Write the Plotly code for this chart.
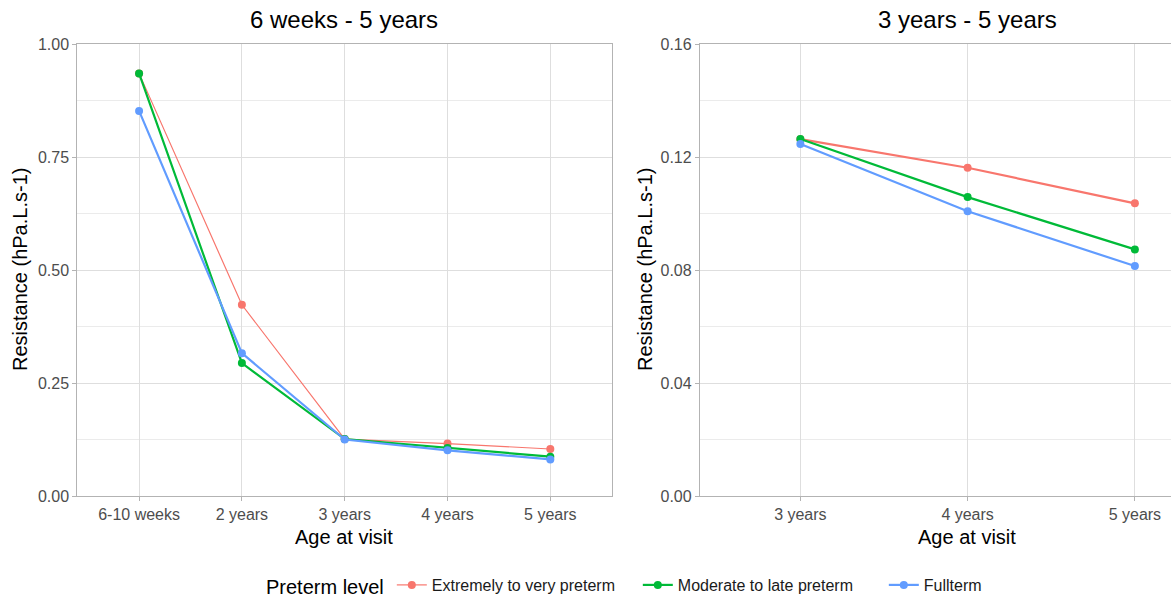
import plotly.graph_objects as go

# ---- data ----
ages_all = ["6-10 weeks", "2 years", "3 years", "4 years", "5 years"]
ages_late = ["3 years", "4 years", "5 years"]
groups = ["Extremely to very preterm", "Moderate to late preterm", "Fullterm"]
colors = ["#F8766D", "#00BA38", "#619CFF"]

extremely_all = [0.935, 0.423, 0.126, 0.116, 0.104]
moderate_all = [0.935, 0.294, 0.126, 0.106, 0.087]
fullterm_all = [0.852, 0.316, 0.125, 0.101, 0.081]

extremely_late = [0.1263, 0.1162, 0.1036]
moderate_late = [0.1264, 0.1058, 0.0873]
fullterm_late = [0.1246, 0.1008, 0.0814]

left_vals = [extremely_all, moderate_all, fullterm_all]
right_vals = [extremely_late, moderate_late, fullterm_late]
left_widths = [1.2, 2.2, 2.2]

W, H = 1171, 601
FONT = "Liberation Sans, Arial, sans-serif"

fig = go.Figure()
for i, g in enumerate(groups):
    fig.add_trace(go.Scatter(
        x=ages_all, y=left_vals[i], mode="lines+markers", name=g,
        line=dict(color=colors[i], width=left_widths[i]),
        marker=dict(color=colors[i], size=8),
        legendgroup=g, showlegend=True, xaxis="x", yaxis="y"))
for i, g in enumerate(groups):
    fig.add_trace(go.Scatter(
        x=ages_late, y=right_vals[i], mode="lines+markers", name=g,
        line=dict(color=colors[i], width=2.2),
        marker=dict(color=colors[i], size=8),
        legendgroup=g, showlegend=False, xaxis="x2", yaxis="y2"))

ydom = [1 - 496 / H, 1 - 44 / H]
grid = "#DEDEDE"
border = "#B3B3B3"
tickfont = dict(family=FONT, size=16, color="#4D4D4D")

common_x = dict(showgrid=True, gridcolor=grid, gridwidth=1, showline=True,
                linecolor=border, linewidth=1.3, ticks="outside", ticklen=4,
                tickcolor=border, tickfont=tickfont, zeroline=False,
                automargin=False)
common_y = dict(showgrid=True, gridcolor=grid, gridwidth=1, showline=True,
                linecolor=border, linewidth=1.3, ticks="outside", ticklen=4,
                tickcolor=border, tickfont=tickfont, zeroline=False,
                automargin=False)

fig.update_layout(
    width=W, height=H,
    margin=dict(l=0, r=0, t=0, b=0, autoexpand=False),
    paper_bgcolor="white", plot_bgcolor="white",
    font=dict(family=FONT),
    xaxis=dict(domain=[77.4 / W, 612 / W], anchor="y", type="category",
               categoryorder="array", categoryarray=ages_all,
               range=[-0.6, 4.6], mirror=True, **common_x),
    yaxis=dict(domain=ydom, anchor="x", range=[0, 1.0],
               tickvals=[0, 0.25, 0.5, 0.75, 1.0],
               ticktext=["0.00", "0.25", "0.50", "0.75", "1.00"],
               minor=dict(tickvals=[0.125, 0.375, 0.625, 0.875], showgrid=True,
                          gridcolor="#EBEBEB", gridwidth=0.6, ticks=""),
               mirror=True, **common_y),
    xaxis2=dict(domain=[700 / W, 1.0], anchor="y2", type="category",
                categoryorder="array", categoryarray=ages_late,
                range=[-0.6, 2.216], mirror=True, **common_x),
    yaxis2=dict(domain=ydom, anchor="x2", range=[0, 0.16],
                tickvals=[0, 0.04, 0.08, 0.12, 0.16],
                ticktext=["0.00", "0.04", "0.08", "0.12", "0.16"],
                minor=dict(tickvals=[0.02, 0.06, 0.10, 0.14], showgrid=True,
                           gridcolor="#EBEBEB", gridwidth=0.6, ticks=""),
                mirror=False, **common_y),
    legend=dict(orientation="h", x=264 / W, xanchor="left",
                y=1 - 586 / H, yanchor="middle",
                title=dict(text="Preterm level", font=dict(size=20, color="black", family=FONT)),
                font=dict(size=16, color="#1A1A1A", family=FONT),
                itemwidth=30, tracegroupgap=0,
                entrywidth=201, entrywidthmode="pixels"),
)

def px_x(p):
    return p / W

def px_y(p):
    return 1 - p / H

annos = [
    dict(text="6 weeks - 5 years", x=px_x(344.5), y=px_y(20), size=24),
    dict(text="3 years - 5 years", x=px_x(967), y=px_y(20), size=24),
    dict(text="Age at visit", x=px_x(344.5), y=px_y(537), size=20),
    dict(text="Age at visit", x=px_x(967), y=px_y(537), size=20),
]
for a in annos:
    fig.add_annotation(text=a["text"], x=a["x"], y=a["y"], xref="paper", yref="paper",
                       xanchor="center", yanchor="middle", showarrow=False,
                       font=dict(family=FONT, size=a["size"], color="black"))
for xp in [20, 645]:
    fig.add_annotation(text="Resistance (hPa.L.s-1)", x=px_x(xp), y=px_y(270),
                       xref="paper", yref="paper", xanchor="center", yanchor="middle",
                       textangle=-90, showarrow=False,
                       font=dict(family=FONT, size=20, color="black"))

fig.write_html("out.html")
